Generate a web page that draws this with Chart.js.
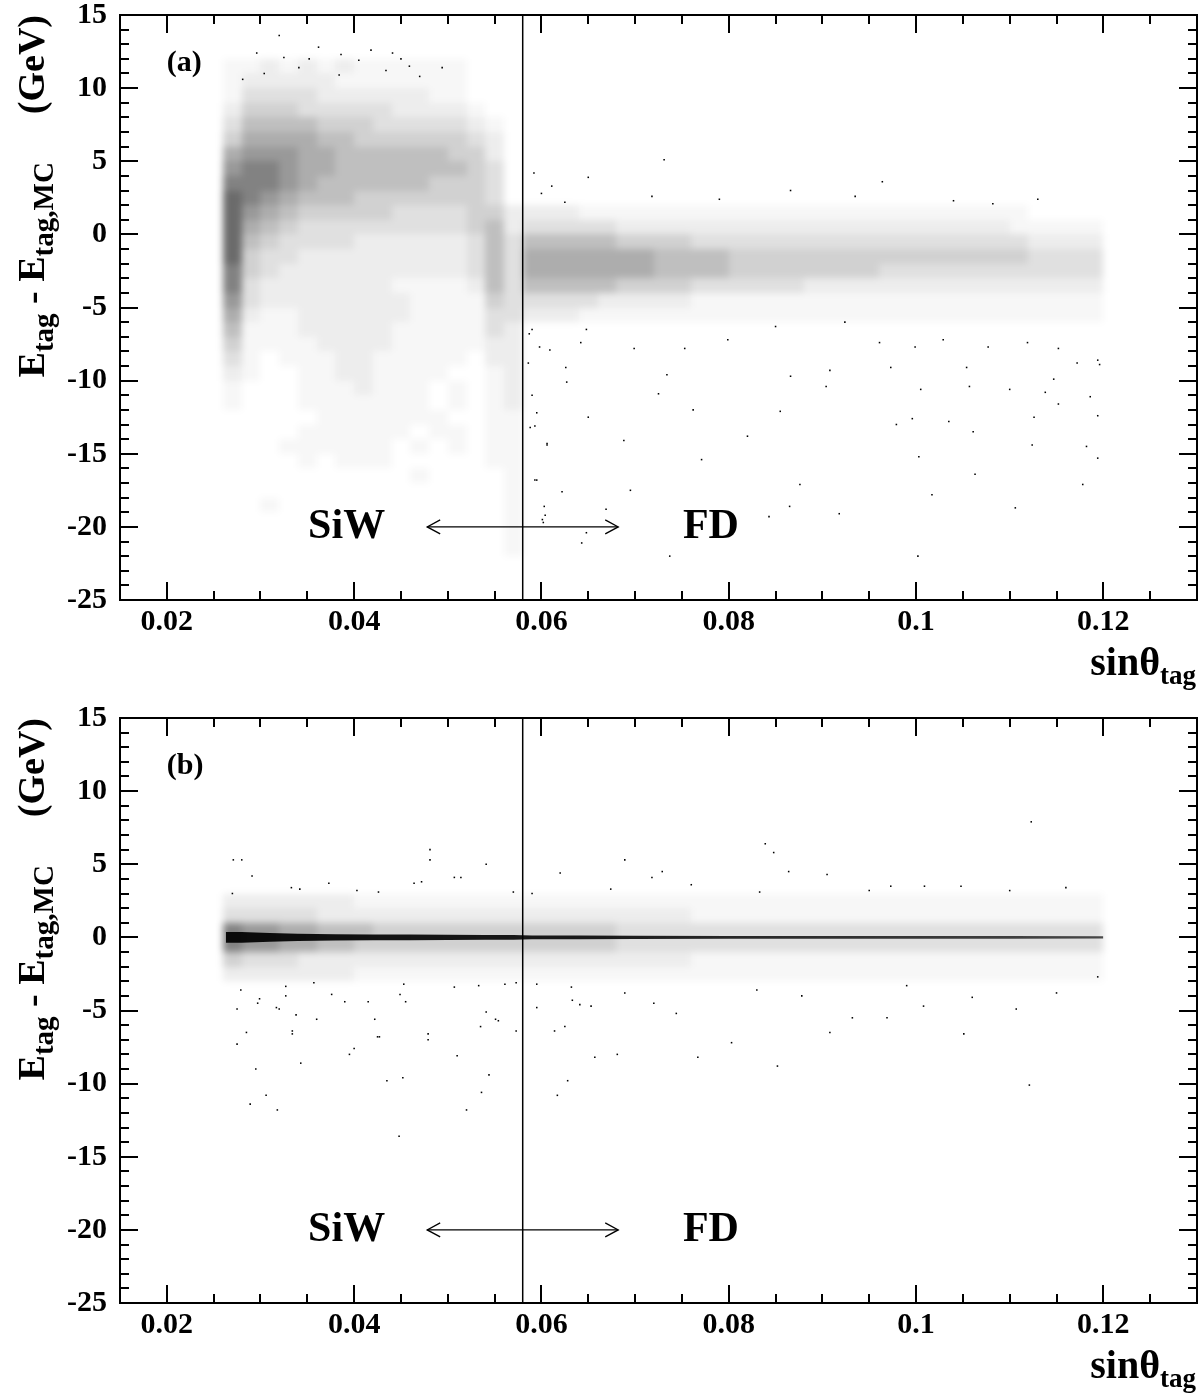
<!DOCTYPE html>
<html>
<head>
<meta charset="utf-8">
<script src="https://cdn.jsdelivr.net/npm/chart.js@4.4.0/dist/chart.umd.min.js"></script>
<style>
  body { margin: 0; background: #fff; }
  #wrap { position: relative; width: 1204px; height: 1397px; }
  .panel { position: absolute; left: 0; width: 1204px; }
</style>
</head>
<body>
<div id="wrap">
  <div class="panel" style="top:0;height:700px"><canvas id="chartA"></canvas></div>
  <div class="panel" style="top:700px;height:697px"><canvas id="chartB"></canvas></div>
</div>
<script>
// --- 1. DATA ---
const xRange = [0.015, 0.13];
const yRange = [-25, 15];
const xTickValues = [0.02, 0.04, 0.06, 0.08, 0.1, 0.12];
const yTickValues = [-25, -20, -15, -10, -5, 0, 5, 10, 15];
const xMinorStep = 0.005;
const yMinorStep = 1;

// density grid: columns of 0.002 in sinθ starting at 0.026 (16 SiW cols | 31 FD cols),
// rows of 1 GeV from +15 (top) down to -25. digits = how dark the cell looks, '.' = empty
const gridX0 = 0.026;
const gridDX = 0.002;
const gridYTop = 15;
const gridDY = 1;

const aDensity = [
  "................|",
  "................|",
  "................|",
  "1121212111111...|",
  "1222221111111...|",
  "1333322222211...|",
  "24443333322221..|",
  "355554443333321.|",
  "466665544444432.|",
  "677766555555442.|",
  "788766555555543.|",
  "888765555554443.|",
  "987655544444443.|",
  "9765444443333442|222111111111111111111111111....",
  "9654333333333452|3333322222222222222222222211111",
  "9543333222222353|5555544443333333333333333332222",
  "9433222222222353|6666666555544444444444444443333",
  "8432222222222353|6666666555544444444333333333333",
  "8322222221111253|5555544443333332222222222222222",
  "7322222222111143|3333222221111111111111111111111",
  "6211222222111133|2221111111111111111111111111111",
  "5111222221111132|",
  "4111122221111122|",
  "31.1112211111.22|",
  "21..11221111..12|",
  "1...1112111.1.12|",
  "1...1111111.1.12|",
  ".....1111111..11|",
  "....111111.11.11|",
  "...111111.1.1.11|",
  "....1.111.....11|",
  "..........1....1|",
  "...............1|",
  "..1............1|",
  "...............1|",
  "...............1|",
  "...............1|",
  "................|",
  "................|",
  "................|"
];

const bDensity = [
  "|", "|", "|", "|", "|", "|", "|", "|", "|", "|", "|", "|",
  "2222222111111111|1111111111111111111111111111111",
  "3333322222222222|2222222221111111111111111111111",
  "8776655544444444|4444433333333333333333333333333",
  "8776655444444444|4444433333333333333333333333333",
  "4333222222222222|2222222221111111111111111111111",
  "2222222111111111|1111111111111111111111111111111",
  "|", "|", "|", "|", "|", "|", "|", "|", "|", "|", "|",
  "|", "|", "|", "|", "|", "|", "|", "|", "|", "|", "|"
];

// isolated dots outside the dense regions
const aOutliers = [
  [0.0320, 13.6], [0.0325, 12.1], [0.0341, 11.4], [0.0386, 12.3], [0.0384, 10.9], [0.0405, 11.9],
  [0.0434, 11.2], [0.0450, 12.0], [0.0459, 11.5], [0.0470, 10.8], [0.0304, 11.0], [0.0296, 12.4],
  [0.0352, 12.0], [0.0418, 12.6], [0.0494, 11.4], [0.0362, 12.8], [0.0441, 12.4], [0.0281, 10.6],
  [0.0731, 5.1], [0.0592, 4.2], [0.0650, 3.9], [0.0611, 3.3], [0.0600, 2.8], [0.0866, 3.0],
  [0.0964, 3.6], [0.0718, 2.6], [0.0625, 2.2], [0.0790, 2.4], [0.1040, 2.3], [0.1082, 2.1],
  [0.0935, 2.6], [0.1130, 2.4],
  [0.0590, -6.5], [0.0609, -7.9], [0.0642, -7.4], [0.0648, -6.5], [0.0699, -7.8], [0.0753, -7.8],
  [0.0799, -7.2], [0.0850, -6.3], [0.0924, -6.0], [0.0961, -7.4], [0.0999, -7.7], [0.1029, -7.2],
  [0.1077, -7.7], [0.1119, -7.4], [0.1152, -7.8], [0.1194, -8.6], [0.1196, -8.9], [0.0586, -8.8],
  [0.0626, -9.1], [0.0734, -9.6], [0.0866, -9.7], [0.0908, -9.3], [0.0973, -9.1], [0.1054, -9.1],
  [0.1147, -9.9], [0.1172, -8.8], [0.0590, -11.0], [0.0627, -10.1], [0.0725, -10.9], [0.0904, -10.4],
  [0.1005, -10.6], [0.1057, -10.4], [0.1100, -10.6], [0.1138, -10.8], [0.1186, -11.1], [0.0595, -12.2],
  [0.0650, -12.5], [0.0762, -12.0], [0.0855, -12.1], [0.0996, -12.6], [0.1035, -12.8], [0.1126, -12.5],
  [0.1152, -11.6], [0.1194, -12.4], [0.0588, -13.2], [0.0820, -13.8], [0.0979, -13.0], [0.1061, -13.5],
  [0.1124, -14.4], [0.1182, -14.5], [0.0606, -14.4], [0.0688, -14.1], [0.0771, -15.4], [0.1003, -15.2],
  [0.1194, -15.3], [0.0876, -17.1], [0.1017, -17.8], [0.1178, -17.1], [0.0695, -17.5], [0.1106, -18.7],
  [0.0865, -18.6], [0.0918, -19.1], [0.0843, -19.3], [0.0669, -18.8], [0.0604, -19.2], [0.0602, -19.7],
  [0.0648, -20.4], [0.0643, -21.1], [0.0737, -22.0], [0.1002, -22.0], [0.0622, -17.6], [0.0595, -16.8],
  [0.1063, -16.4], [0.0587, -6.8], [0.0598, -7.7], [0.0593, -13.1], [0.0606, -14.3], [0.0593, -16.8],
  [0.0601, -19.5], [0.0603, -18.6]
];

const bOutliers = [
  [0.0271, 5.3], [0.0280, 5.3], [0.0481, 6.0], [0.0481, 5.3], [0.0541, 5.0], [0.0514, 4.1],
  [0.0472, 3.8], [0.0373, 3.7], [0.0342, 3.3], [0.0270, 3.0], [0.0403, 3.2], [0.0426, 3.1],
  [0.0570, 3.1], [0.0590, 3.0], [0.1123, 7.9], [0.0839, 6.4], [0.0848, 5.8], [0.0689, 5.3],
  [0.0729, 4.5], [0.0718, 4.1], [0.0905, 4.3], [0.0864, 4.5], [0.0973, 3.5], [0.1009, 3.5],
  [0.1048, 3.5], [0.1100, 3.2], [0.0833, 3.1], [0.0674, 3.3], [0.0333, 3.4], [0.0507, 4.1],
  [0.0464, 3.7], [0.0291, 4.2], [0.0620, 4.4], [0.0760, 3.6], [0.0950, 3.2], [0.1160, 3.4],
  [0.0279, -3.6], [0.0299, -4.2], [0.0327, -4.0], [0.0327, -3.35], [0.0275, -4.9], [0.0297, -4.5],
  [0.0317, -4.8], [0.0338, -5.3], [0.0334, -6.4], [0.0334, -6.6], [0.0285, -6.5], [0.0357, -3.1],
  [0.0376, -3.9], [0.0390, -4.4], [0.0415, -4.4], [0.0422, -5.6], [0.0427, -6.8], [0.0449, -3.9],
  [0.0453, -3.2], [0.0455, -4.4], [0.0479, -6.6], [0.0507, -3.4], [0.0533, -3.3], [0.0541, -5.1],
  [0.0551, -5.6], [0.0561, -3.2], [0.0573, -3.1], [0.0573, -6.4], [0.0535, -6.1], [0.0595, -3.2],
  [0.0595, -4.8], [0.0625, -6.1], [0.0633, -4.3], [0.0641, -4.6], [0.0653, -4.7], [0.0632, -3.4],
  [0.0320, -4.9], [0.0554, -5.7], [0.0275, -7.3], [0.0425, -6.8], [0.0479, -7.0], [0.0343, -8.6],
  [0.0295, -9.0], [0.0395, -8.0], [0.0510, -8.1], [0.0452, -9.6], [0.0435, -9.8], [0.0544, -9.4],
  [0.0536, -10.6], [0.0306, -10.8], [0.0289, -11.4], [0.0318, -11.8], [0.0448, -13.6], [0.0614, -6.4],
  [0.0628, -9.8], [0.0617, -10.8], [0.0657, -8.2], [0.0681, -8.0], [0.0767, -8.2], [0.0803, -7.2],
  [0.0852, -8.8], [0.0908, -6.5], [0.1051, -6.6], [0.1121, -10.1], [0.0969, -5.5], [0.1008, -4.7],
  [0.1107, -4.9], [0.1194, -2.7], [0.0932, -5.5], [0.0878, -4.0], [0.0744, -5.2], [0.0689, -3.8],
  [0.0720, -4.5], [0.0830, -3.6], [0.0990, -3.3], [0.1060, -4.1], [0.1150, -3.8], [0.0360, -5.6],
  [0.0400, -7.6], [0.0520, -11.8]
];

// panel (b): the narrow well-measured core around zero, half width in GeV
const coreX    = [0.0263, 0.028, 0.031, 0.034, 0.038, 0.042, 0.046, 0.050, 0.054, 0.057, 0.059, 0.064, 0.070, 0.080, 0.090, 0.100, 0.110, 0.120];
const coreHalf = [0.36,   0.36,  0.30,  0.25,  0.22,  0.20,  0.19,  0.18,  0.17,  0.16,  0.13,  0.12,  0.11,  0.10,  0.10,  0.09,  0.09,  0.08];

const cutX = 0.058;            // SiW / FD boundary
const arrowX = [0.0478, 0.0682];
const arrowY = -20;

// --- 2. STYLE ---
const FONT = '"Liberation Serif", "Times New Roman", serif';
const levelAlpha = [0, 0.03, 0.07, 0.12, 0.18, 0.25, 0.32, 0.40, 0.49, 0.58];

Chart.defaults.font.family = FONT;
Chart.defaults.color = '#000';

function parseRow(row) {
  const [siw, fd] = row.split('|');
  const norm = (s, n) => ((s || '') + '.'.repeat(n)).slice(0, n);
  return (norm(siw, 16) + norm(fd, 31)).split('').map(c => (c === '.' ? 0 : +c));
}

// shaded cells for the dense scatter
const densityPlugin = {
  id: 'density',
  beforeDatasetsDraw(chart, args, opts) {
    const rows = opts.rows;
    if (!rows) return;
    const { ctx, chartArea: ca, scales: { x, y } } = chart;
    const off = document.createElement('canvas');
    off.width = chart.width;
    off.height = chart.height;
    const o = off.getContext('2d');
    rows.forEach((row, j) => {
      parseRow(row).forEach((d, i) => {
        if (!d) return;
        const x0 = Math.round(x.getPixelForValue(gridX0 + i * gridDX));
        const x1 = Math.round(x.getPixelForValue(gridX0 + (i + 1) * gridDX));
        const y0 = Math.round(y.getPixelForValue(gridYTop - j * gridDY));
        const y1 = Math.round(y.getPixelForValue(gridYTop - (j + 1) * gridDY));
        o.fillStyle = `rgba(0,0,0,${levelAlpha[d]})`;
        o.fillRect(x0, y0, x1 - x0, y1 - y0);
      });
    });
    ctx.save();
    ctx.beginPath();
    ctx.rect(ca.left, ca.top, ca.right - ca.left, ca.bottom - ca.top);
    ctx.clip();
    ctx.filter = 'blur(3.5px)';
    ctx.drawImage(off, 0, 0);
    ctx.restore();
  }
};

function drawParts(ctx, parts, x0, y0) {
  let x = x0;
  for (const [t, size, dy] of parts) {
    ctx.font = `bold ${size}px ${FONT}`;
    ctx.fillText(t, x, y0 + dy);
    x += ctx.measureText(t).width;
  }
  return x - x0;
}
function partsWidth(ctx, parts) {
  let w = 0;
  for (const [t, size] of parts) {
    ctx.font = `bold ${size}px ${FONT}`;
    w += ctx.measureText(t).width;
  }
  return w;
}

// ROOT-like frame: inner ticks on all four sides, labels, arrows
const framePlugin = {
  id: 'frame',
  afterDatasetsDraw(chart, args, opts) {
    const { ctx, chartArea: ca, scales: { x, y } } = chart;
    ctx.save();
    ctx.strokeStyle = '#000';
    ctx.fillStyle = '#000';
    ctx.lineWidth = 2;
    ctx.strokeRect(ca.left, ca.top, ca.right - ca.left, ca.bottom - ca.top);

    ctx.beginPath();
    const nx = Math.round((xRange[1] - xRange[0]) / xMinorStep);
    for (let k = 1; k < nx; k++) {
      const v = xRange[0] + k * xMinorStep;
      const major = xTickValues.some(t => Math.abs(t - v) < 1e-7);
      const len = major ? 18 : 9;
      const px = Math.round(x.getPixelForValue(v));
      ctx.moveTo(px, ca.bottom); ctx.lineTo(px, ca.bottom - len);
      ctx.moveTo(px, ca.top); ctx.lineTo(px, ca.top + len);
    }
    const ny = Math.round((yRange[1] - yRange[0]) / yMinorStep);
    for (let k = 1; k < ny; k++) {
      const v = yRange[0] + k * yMinorStep;
      const major = yTickValues.includes(v);
      const len = major ? 18 : 9;
      const py = Math.round(y.getPixelForValue(v));
      ctx.moveTo(ca.left, py); ctx.lineTo(ca.left + len, py);
      ctx.moveTo(ca.right, py); ctx.lineTo(ca.right - len, py);
    }
    ctx.stroke();

    // arrow heads
    ctx.lineWidth = 1.3;
    const ay = y.getPixelForValue(arrowY);
    const axL = x.getPixelForValue(arrowX[0]);
    const axR = x.getPixelForValue(arrowX[1]);
    ctx.beginPath();
    ctx.moveTo(axL + 13, ay - 7); ctx.lineTo(axL, ay); ctx.lineTo(axL + 13, ay + 7);
    ctx.moveTo(axR - 13, ay - 7); ctx.lineTo(axR, ay); ctx.lineTo(axR - 13, ay + 7);
    ctx.stroke();

    // SiW / FD
    ctx.font = `bold 42px ${FONT}`;
    ctx.textAlign = 'center';
    ctx.textBaseline = 'alphabetic';
    ctx.fillText('SiW', x.getPixelForValue(0.0392), ay + 11);
    ctx.fillText('FD', x.getPixelForValue(0.0781), ay + 11);

    // panel letter
    ctx.font = `bold 30px ${FONT}`;
    ctx.textAlign = 'left';
    ctx.fillText(opts.label, x.getPixelForValue(0.02), ca.top + 56);

    // x title: sinθ_tag
    const xt = [['sin\u03B8', 40, 0], ['tag', 27, 9]];
    const wx = partsWidth(ctx, xt);
    drawParts(ctx, xt, 1196 - wx, ca.bottom + 75);

    // y title, rotated
    const gev = [['(GeV)', 38, 0]];
    const main = [['E', 38, 0], ['tag', 29, 9], [' - ', 38, 0], ['E', 38, 0], ['tag,MC', 29, 9]];
    const wg = partsWidth(ctx, gev);
    const wm = partsWidth(ctx, main);
    ctx.translate(44, ca.top);
    ctx.rotate(-Math.PI / 2);
    drawParts(ctx, gev, -wg, 0);
    drawParts(ctx, main, -wg - 48 - wm, 0);
    ctx.restore();
  }
};

Chart.register(densityPlugin, framePlugin);

function makeChart(canvasId, label, density, outliers, withCore, padTop, bottomH) {
  const datasets = [
    {
      type: 'scatter',
      data: outliers.map(([x, y]) => ({ x, y })),
      pointStyle: 'rect',
      pointRadius: 1.1,
      pointBackgroundColor: '#000',
      pointBorderWidth: 0
    },
    {
      type: 'line',
      data: [{ x: cutX, y: yRange[0] }, { x: cutX, y: yRange[1] }],
      borderColor: '#000',
      borderWidth: 1.5,
      pointRadius: 0
    },
    {
      type: 'line',
      data: arrowX.map(x => ({ x, y: arrowY })),
      borderColor: '#000',
      borderWidth: 1.3,
      pointRadius: 0
    }
  ];
  if (withCore) {
    datasets.push({
      type: 'line',
      data: coreX.map((x, i) => ({ x, y: coreHalf[i] })),
      borderWidth: 0,
      pointRadius: 0
    });
    datasets.push({
      type: 'line',
      data: coreX.map((x, i) => ({ x, y: -coreHalf[i] })),
      borderWidth: 0,
      pointRadius: 0,
      fill: '-1',
      backgroundColor: (c) => {
        const ca = c.chart.chartArea;
        if (!ca) return 'rgba(0,0,0,0.9)';
        const g = c.chart.ctx.createLinearGradient(ca.left, 0, ca.right, 0);
        g.addColorStop(0, 'rgba(0,0,0,0.95)');
        g.addColorStop(0.45, 'rgba(0,0,0,0.88)');
        g.addColorStop(1, 'rgba(0,0,0,0.65)');
        return g;
      }
    });
  }

  return new Chart(document.getElementById(canvasId), {
    type: 'scatter',
    data: { datasets },
    options: {
      responsive: true,
      maintainAspectRatio: false,
      animation: false,
      layout: { padding: { top: padTop, right: 7, left: 0, bottom: 0 } },
      plugins: {
        legend: { display: false },
        tooltip: { enabled: false },
        density: { rows: density },
        frame: { label }
      },
      scales: {
        x: {
          type: 'linear',
          min: xRange[0],
          max: xRange[1],
          afterBuildTicks: s => { s.ticks = xTickValues.map(v => ({ value: v })); },
          afterFit: s => { s.height = bottomH; s.paddingLeft = 0; s.paddingRight = 0; },
          grid: { display: false, drawTicks: false },
          border: { display: false },
          ticks: {
            autoSkip: false,
            maxRotation: 0,
            padding: 4,
            color: '#000',
            font: { family: FONT, size: 30, weight: 'bold' },
            callback: v => String(v)
          }
        },
        y: {
          type: 'linear',
          min: yRange[0],
          max: yRange[1],
          afterBuildTicks: s => { s.ticks = yTickValues.map(v => ({ value: v })); },
          afterFit: s => { s.width = 120; s.paddingTop = 0; s.paddingBottom = 0; },
          grid: { display: false, drawTicks: false },
          border: { display: false },
          ticks: {
            autoSkip: false,
            padding: 13,
            color: '#000',
            font: { family: FONT, size: 30, weight: 'bold' },
            callback: v => String(v)
          }
        }
      }
    }
  });
}

makeChart('chartA', '(a)', aDensity, aOutliers, false, 15, 100);
makeChart('chartB', '(b)', bDensity, bOutliers, true, 18, 94);
</script>
</body>
</html>
